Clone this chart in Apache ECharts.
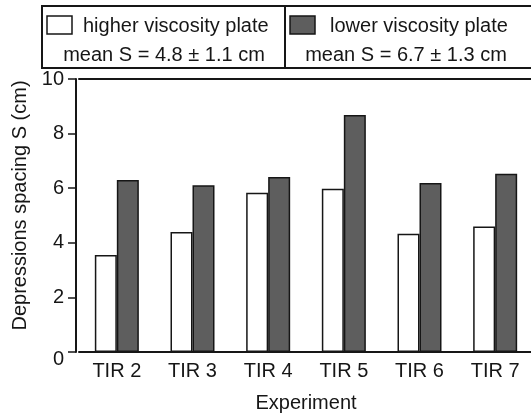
<!DOCTYPE html>
<html>
<head>
<meta charset="utf-8">
<script src="https://cdn.jsdelivr.net/npm/echarts@6/dist/echarts.min.js"></script>
<style>
  html, body { margin: 0; padding: 0; background: #fff; }
  #chart { width: 531px; height: 416px; }
</style>
</head>
<body>
<div id="chart"></div>
<script>
const experiments = ['TIR 2', 'TIR 3', 'TIR 4', 'TIR 5', 'TIR 6', 'TIR 7']
const higherViscosity = [3.55, 4.4, 5.83, 5.98, 4.33, 4.6]
const lowerViscosity  = [6.3, 6.11, 6.41, 8.68, 6.19, 6.53]
const seriesNames = ['higher viscosity plate', 'lower viscosity plate']
const meanLabels = ['mean S = 4.8 ± 1.1 cm', 'mean S = 6.7 ± 1.3 cm']
const yTicks = [0, 2, 4, 6, 8, 10]

const INK = '#161616'
const GREY = '#5e5e5e'
const FONT = 'Liberation Sans, Arial, sans-serif'
const FS = 20

const chart = echarts.init(document.getElementById('chart'))

// one framed legend cell: swatch + name on the first row, mean value centred below
function legendBox(x, w, textX, meanX, name, mean, fill) {
  return [
    { type: 'rect', shape: { x: x, y: 6, width: w, height: 62 },
      style: { fill: 'none', stroke: INK, lineWidth: 2 } },
    { type: 'rect', shape: { x: x + 5, y: 16, width: 25, height: 18 },
      style: { fill: fill, stroke: INK, lineWidth: 1.5 } },
    { type: 'text', x: x + textX, y: 26,
      style: { text: name, font: FS + 'px ' + FONT, fill: INK, textVerticalAlign: 'middle' } },
    { type: 'text', x: meanX, y: 55,
      style: { text: mean, font: FS + 'px ' + FONT, fill: INK, textAlign: 'center', textVerticalAlign: 'middle' } },
  ]
}

chart.setOption({
  animation: false,
  grid: { left: 79, right: -2, top: 79, bottom: 64, outerBoundsMode: 'none' },
  xAxis: [{
    type: 'category',
    data: experiments,
    name: 'Experiment',
    nameLocation: 'middle',
    nameGap: 41,
    nameTextStyle: { color: INK, fontSize: FS, fontFamily: FONT },
    axisLine: { lineStyle: { color: INK, width: 2 } },
    axisTick: { show: false },
    axisLabel: { color: INK, fontSize: FS, fontFamily: FONT, margin: 9 },
  }, {
    type: 'category',
    position: 'top',
    data: experiments,
    axisLine: { lineStyle: { color: INK, width: 2 } },
    axisTick: { show: false },
    axisLabel: { show: false },
  }],
  yAxis: {
    type: 'value',
    min: 0,
    max: 10,
    interval: 2,
    offset: 3,
    name: 'Depressions spacing S (cm)',
    nameLocation: 'middle',
    nameGap: 46,
    nameTextStyle: { color: INK, fontSize: FS, fontFamily: FONT, padding: [0, 0, 0, 20] },
    axisLine: { show: true, lineStyle: { color: INK, width: 2 } },
    axisTick: { show: true, length: 8, lineStyle: { color: INK, width: 1.5 } },
    axisLabel: {
      color: INK, fontSize: FS, fontFamily: FONT, margin: 12,
      formatter: (v) => {
        if (!yTicks.includes(v)) return ''
        return v === 0 ? '{zero|0}' : String(v)
      },
      rich: {
        zero: { color: INK, fontSize: FS, fontFamily: FONT, padding: [14, 0, 0, 0] },
      },
    },
    splitLine: { show: false },
  },
  series: [{
    name: seriesNames[0],
    type: 'bar',
    data: higherViscosity,
    barWidth: 22,
    barGap: '0%',
    itemStyle: { color: '#fff', borderColor: INK, borderWidth: 1.5 },
  }, {
    name: seriesNames[1],
    type: 'bar',
    data: lowerViscosity,
    barWidth: 22,
    barGap: '0%',
    itemStyle: { color: GREY, borderColor: INK, borderWidth: 1.5 },
  }],
  graphic: [
    ...legendBox(42, 243, 41, 164, seriesNames[0], meanLabels[0], '#fff'),
    ...legendBox(285, 260, 45, 406, seriesNames[1], meanLabels[1], GREY),
  ],
})
</script>
</body>
</html>
